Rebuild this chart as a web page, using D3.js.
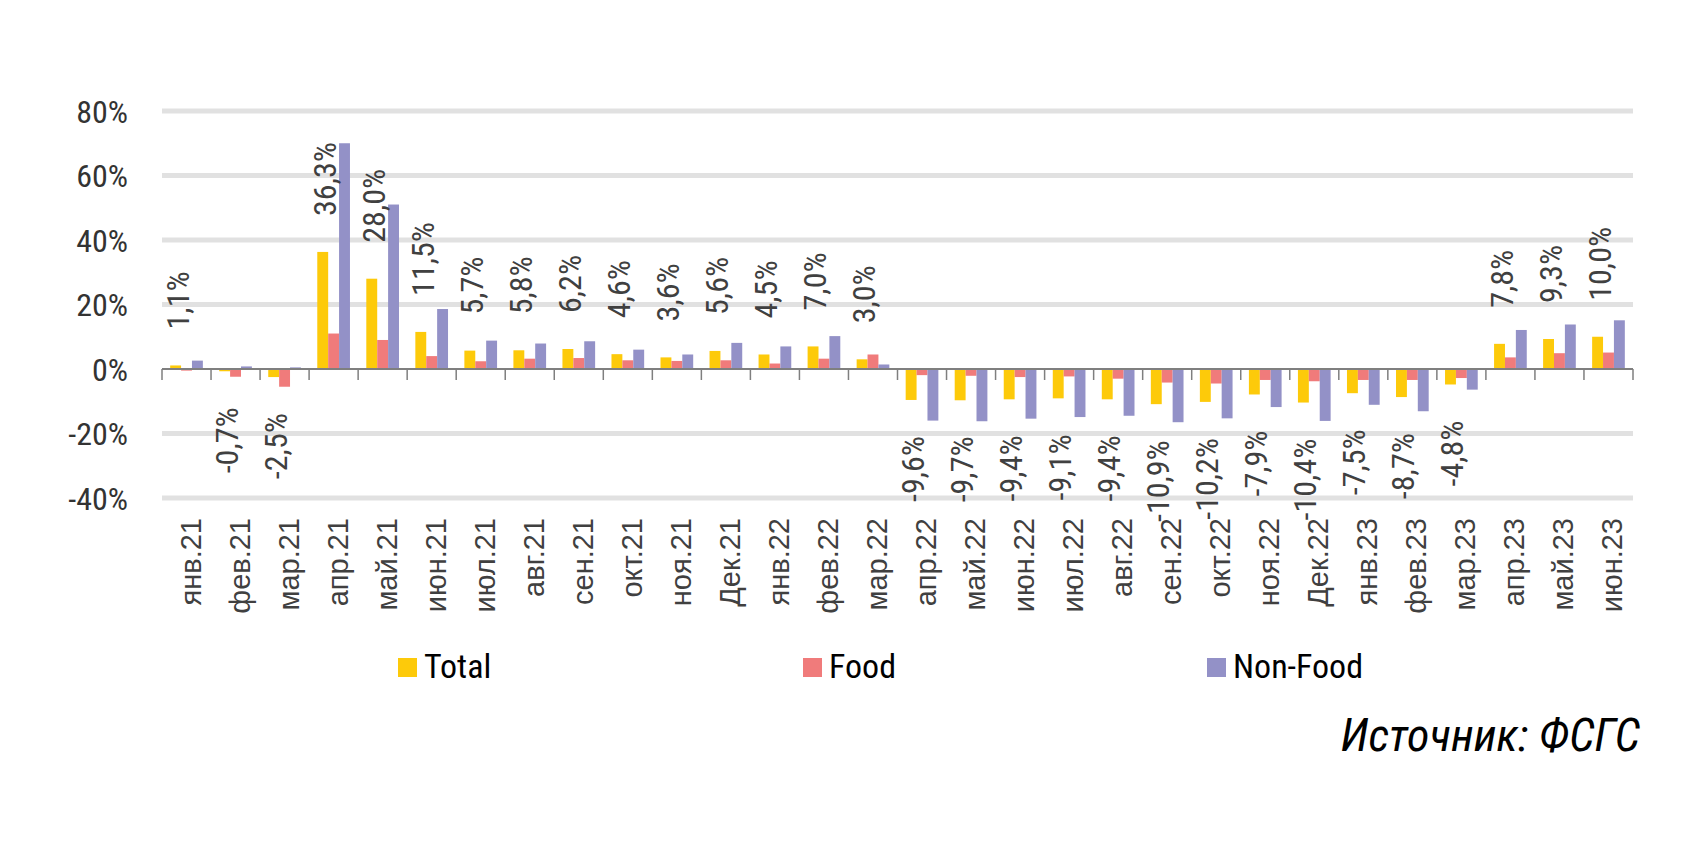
<!DOCTYPE html>
<html>
<head>
<meta charset="utf-8">
<script src="https://cdn.jsdelivr.net/npm/d3@7"></script>
<style>
  body { margin: 0; background: #fff; }
  text { font-family: 'Roboto Condensed', 'Roboto', sans-serif; }
</style>
</head>
<body>
<svg id="chart"></svg>
<script>
const months = ["янв.21", "фев.21", "мар.21", "апр.21", "май.21", "июн.21", "июл.21", "авг.21", "сен.21", "окт.21", "ноя.21", "Дек.21",
  "янв.22", "фев.22", "мар.22", "апр.22", "май.22", "июн.22", "июл.22", "авг.22", "сен.22", "окт.22", "ноя.22", "Дек.22",
  "янв.23", "фев.23", "мар.23", "апр.23", "май.23", "июн.23"];

const total = [1.1, -0.7, -2.5, 36.3, 28.0, 11.5, 5.7, 5.8, 6.2, 4.6, 3.6, 5.6,
  4.5, 7.0, 3.0, -9.6, -9.7, -9.4, -9.1, -9.4, -10.9, -10.2, -7.9, -10.4,
  -7.5, -8.7, -4.8, 7.8, 9.3, 10.0];

const food = [-0.5, -2.4, -5.5, 11.0, 9.0, 4.0, 2.4, 3.2, 3.4, 2.7, 2.5, 2.7,
  1.7, 3.2, 4.5, -1.9, -2.1, -2.5, -2.3, -3.0, -4.2, -4.5, -3.4, -3.8,
  -3.4, -3.4, -2.8, 3.6, 4.9, 5.1];

const nonFood = [2.6, 0.8, 0.5, 70.0, 51.0, 18.6, 8.8, 7.9, 8.6, 6.0, 4.5, 8.1,
  7.0, 10.2, 1.4, -16.0, -16.2, -15.4, -14.9, -14.5, -16.5, -15.3, -11.8, -16.1,
  -11.1, -13.1, -6.4, 12.1, 13.8, 15.1];

const yTicks = [-40, -20, 0, 20, 40, 60, 80];

const seriesNames = ["Total", "Food", "Non-Food"];
const colors = { "Total": "#FDCA0A", "Food": "#F07B7B", "Non-Food": "#9391C7" };

const width = 1707, height = 850;
const margin = { left: 162, right: 1633, top: 111, bottom: 498 };

const svg = d3.select("#chart")
  .attr("width", width)
  .attr("height", height);

const x0 = d3.scaleBand()
  .domain(months)
  .range([margin.left, margin.right])
  .padding(0);

const x1 = d3.scaleBand()
  .domain(seriesNames)
  .range([0, x0.bandwidth()])
  .paddingInner(0)
  .paddingOuter(0.75);

const y = d3.scaleLinear()
  .domain([-40, 80])
  .range([margin.bottom, margin.top]);

// gridlines
svg.append("g")
  .selectAll("line")
  .data(yTicks.filter(d => d !== 0))
  .enter()
  .append("line")
  .attr("x1", margin.left)
  .attr("x2", margin.right)
  .attr("y1", d => y(d))
  .attr("y2", d => y(d))
  .attr("stroke", "#E1E1E1")
  .attr("stroke-width", 5);

// y labels
svg.append("g")
  .selectAll("text")
  .data(yTicks)
  .enter()
  .append("text")
  .attr("x", 128)
  .attr("y", d => y(d))
  .attr("dy", "0.36em")
  .attr("text-anchor", "end")
  .style("font-size", "32px")
  .attr("fill", "#333")
  .text(d => d + "%");

// bars
const rows = months.map((m, i) => ({
  month: m,
  values: [
    { key: "Total", value: total[i] },
    { key: "Food", value: food[i] },
    { key: "Non-Food", value: nonFood[i] }
  ]
}));

const groups = svg.append("g")
  .selectAll(".bar-group")
  .data(rows)
  .enter()
  .append("g")
  .attr("class", "bar-group")
  .attr("transform", d => `translate(${x0(d.month)},0)`);

groups.selectAll("rect")
  .data(d => d.values)
  .enter()
  .append("rect")
  .attr("x", d => x1(d.key))
  .attr("y", d => y(Math.max(0, d.value)))
  .attr("width", x1.bandwidth())
  .attr("height", d => Math.abs(y(d.value) - y(0)))
  .attr("fill", d => colors[d.key]);

// zero axis with ticks
const axis = svg.append("g");
axis.append("line")
  .attr("x1", margin.left)
  .attr("x2", margin.right)
  .attr("y1", y(0))
  .attr("y2", y(0))
  .attr("stroke", "#7F7F7F")
  .attr("stroke-width", 2);

axis.selectAll(".tick")
  .data(months.map(m => x0(m)).concat([margin.right]))
  .enter()
  .append("line")
  .attr("class", "tick")
  .attr("x1", d => d)
  .attr("x2", d => d)
  .attr("y1", y(0))
  .attr("y2", y(0) + 11)
  .attr("stroke", "#7F7F7F")
  .attr("stroke-width", 1.5);

// data labels for Total
const fmt = v => v.toFixed(1).replace(".", ",") + "%";

svg.append("g")
  .selectAll("text")
  .data(rows)
  .enter()
  .append("text")
  .attr("transform", d => {
    const v = d.values[0].value;
    const cx = x0(d.month) + x1("Total") + x1.bandwidth() / 2;
    const cy = v >= 0 ? y(v) - 36 : y(v) + 36;
    return `translate(${cx},${cy}) rotate(-90)`;
  })
  .attr("dy", 13)
  .attr("text-anchor", d => d.values[0].value >= 0 ? "start" : "end")
  .style("font-size", "32px")
  .attr("fill", "#404040")
  .text(d => fmt(d.values[0].value));

// category labels
svg.append("g")
  .selectAll("text")
  .data(months)
  .enter()
  .append("text")
  .attr("transform", d => `translate(${x0(d) + x0.bandwidth() / 2},518) rotate(-90)`)
  .attr("dy", 14)
  .attr("text-anchor", "end")
  .style("font-family", "'Liberation Sans', Arial, sans-serif")
  .style("font-size", "29px")
  .attr("fill", "#404040")
  .text(d => d);

// legend
const legendX = [398, 803, 1207];
const legend = svg.append("g")
  .selectAll("g")
  .data(seriesNames)
  .enter()
  .append("g")
  .attr("transform", (d, i) => `translate(${legendX[i]},658)`);

legend.append("rect")
  .attr("width", 19)
  .attr("height", 19)
  .attr("fill", d => colors[d]);

legend.append("text")
  .attr("x", 26)
  .attr("y", 20)
  .style("font-size", "34px")
  .attr("fill", "#000")
  .text(d => d);

// source
svg.append("text")
  .attr("x", 1640)
  .attr("y", 751)
  .attr("text-anchor", "end")
  .style("font-size", "46px")
  .style("font-style", "italic")
  .attr("fill", "#000")
  .text("Источник: ФСГС");
</script>
</body>
</html>
